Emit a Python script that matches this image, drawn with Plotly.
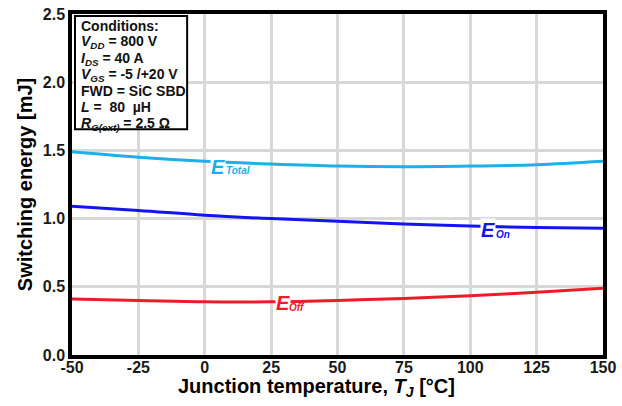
import plotly.graph_objects as go

# Junction temperature sweep [°C]
temps = [-50, -25, 0, 25, 50, 75, 100, 125, 150]
# Switching energies [mJ]
e_total = [1.49, 1.45, 1.42, 1.40, 1.385, 1.38, 1.385, 1.395, 1.42]
e_on = [1.09, 1.06, 1.025, 1.00, 0.98, 0.96, 0.945, 0.935, 0.93]
e_off = [0.41, 0.40, 0.39, 0.39, 0.40, 0.415, 0.435, 0.46, 0.49]

x_ticks = [-50, -25, 0, 25, 50, 75, 100, 125, 150]
y_ticks = [0.0, 0.5, 1.0, 1.5, 2.0, 2.5]

conditions = [
    "Conditions:",
    "<i>V</i><sub><i>DD</i></sub> = 800 V",
    "<i>I</i><sub><i>DS</i></sub> = 40 A",
    "<i>V</i><sub><i>GS</i></sub> = -5 /+20 V",
    "FWD = SiC SBD",
    "<i>L</i> =  80  µH",
    "<i>R</i><sub><i>G(ext)</i></sub> = 2.5 Ω",
]

C_TOTAL = "#1eaee8"
C_ON = "#1414ee"
C_OFF = "#ee1c2a"
FONT = "Arial, Liberation Sans, sans-serif"

# plot area in pixels: x 72..607, y 6..355
def px_to_paper(px, py):
    return (px - 72) / 535, (355 - py) / 349

fig = go.Figure()
for y, c in [(e_total, C_TOTAL), (e_on, C_ON), (e_off, C_OFF)]:
    fig.add_trace(go.Scatter(x=temps, y=y, mode="lines",
                             line=dict(color=c, width=3, shape="spline"),
                             showlegend=False, hoverinfo="skip"))

# Curve labels: the main letter masks the line behind it
labels = [
    (5.1, 1.375, 12.6, 1.350, "Total", C_TOTAL),
    (106.6, 0.917, 112.2, 0.886, "On", C_ON),
    (29.4, 0.382, 34.8, 0.350, "Off", C_OFF),
]
for xe, ye, xs, ys, sub, c in labels:
    fig.add_annotation(x=xe, y=ye, text="<i>E</i>", showarrow=False,
                       bgcolor="white", borderpad=0,
                       font=dict(family=FONT, size=20, color=c, weight="bold"))
    fig.add_annotation(x=xs, y=ys, text="<i>%s</i>" % sub, showarrow=False,
                       xanchor="center", borderpad=0,
                       font=dict(family=FONT, size=10, color=c, weight="bold"))

# Conditions box
bx0, by1 = px_to_paper(75, 8)
bx1, by0 = px_to_paper(188, 124)
fig.add_shape(type="rect", xref="paper", yref="paper",
              x0=bx0, x1=bx1, y0=by0, y1=by1,
              line=dict(color="black", width=2), fillcolor="white", layer="above")
for i, line in enumerate(conditions):
    tx, ty = px_to_paper(80, 18.5 + i * 16.6)
    fig.add_annotation(xref="paper", yref="paper", x=tx, y=ty,
                       xanchor="left", yanchor="middle", showarrow=False,
                       text=line, borderpad=0,
                       font=dict(family=FONT, size=14, color="#111", weight="bold"))

# x-axis title, centred slightly left of the plot centre
ttx, tty = px_to_paper(318, 388)
fig.add_annotation(xref="paper", yref="paper", x=ttx, y=tty,
                   xanchor="center", yanchor="middle", showarrow=False,
                   text="Junction temperature, <i>T</i><sub><i>J</i></sub> [°C]",
                   font=dict(family=FONT, size=20, color="black", weight="bold"))

axis_common = dict(showline=True, mirror=True, linecolor="black", linewidth=3.5,
                   showgrid=True, gridcolor="#d8d8d8", gridwidth=2.5,
                   zeroline=False, ticks="",
                   tickfont=dict(family=FONT, size=16, color="#1a1a1a", weight="bold"))

fig.update_xaxes(range=[-50, 150], tickvals=x_ticks,
                 ticktext=[str(v) for v in x_ticks], ticklabelstandoff=-5,
                 **axis_common)
fig.update_yaxes(range=[0, 2.5], tickvals=y_ticks,
                 ticktext=["%.1f" % v for v in y_ticks],
                 title=dict(text="Switching energy [mJ]",
                            font=dict(family=FONT, size=20, color="black", weight="bold"),
                            standoff=6),
                 **axis_common)

fig.update_layout(width=622, height=406, margin=dict(l=72, r=15, t=6, b=51),
                  paper_bgcolor="white", plot_bgcolor="white",
                  font=dict(family=FONT))

fig.write_html("out.html")
